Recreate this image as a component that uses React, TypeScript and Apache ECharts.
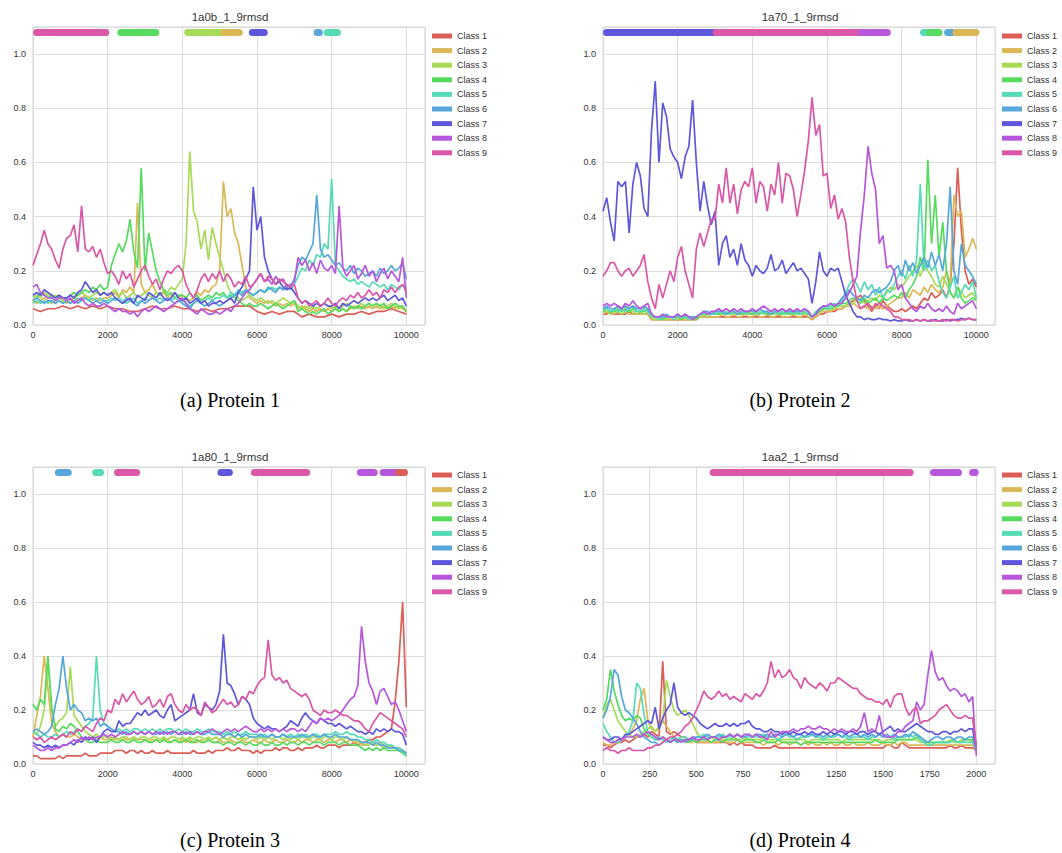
import React, { useEffect, useRef } from "react";
import * as echarts from "echarts";

// ---- classes ----
const CLASS_NAMES = ["Class 1", "Class 2", "Class 3", "Class 4", "Class 5", "Class 6", "Class 7", "Class 8", "Class 9"];
const CLASS_COLORS = ["#db5f57", "#dbb757", "#a7db57", "#57db5f", "#57dbb7", "#57a7db", "#5f57db", "#b757db", "#db57a7"];

// ---- panels ----
const PANEL_TITLES = ["1a0b_1_9rmsd", "1a70_1_9rmsd", "1a80_1_9rmsd", "1aa2_1_9rmsd"];
const PANEL_CAPTIONS = ["(a) Protein 1", "(b) Protein 2", "(c) Protein 3", "(d) Protein 4"];
const PANEL_SPANS = [10000, 10000, 10000, 2000];
const PANEL_X_MAX = [10500, 10500, 10500, 2100];
const PANEL_X_STEP = [2000, 2000, 2000, 250];
const STRIP_LEVEL = 1.08;

// ---- Protein 1 (1a0b) ----
const A1 = [
  0.06, 0.05, 0.06, 0.06, 0.07, 0.06, 0.07, 0.06, 0.07, 0.06,
  0.07, 0.06, 0.06, 0.05, 0.05, 0.06, 0.07, 0.06, 0.06, 0.07,
  0.06, 0.06, 0.05, 0.06, 0.05, 0.06, 0.06, 0.07, 0.07, 0.07,
  0.05, 0.04, 0.05, 0.04, 0.05, 0.05, 0.03, 0.04, 0.03, 0.03,
  0.04, 0.03, 0.04, 0.04, 0.05, 0.04, 0.05, 0.05, 0.06, 0.05,
  0.04,
];
const A2 = [
  0.09, 0.08, 0.09, 0.10, 0.09, 0.08, 0.09, 0.10, 0.09, 0.08,
  0.09, 0.10, 0.09, 0.10, 0.11, 0.10, 0.09, 0.10, 0.09, 0.10,
  0.10, 0.11, 0.12, 0.10, 0.13, 0.12, 0.14, 0.12, 0.45, 0.15,
  0.12, 0.13, 0.15, 0.12, 0.11, 0.12, 0.10, 0.11, 0.12, 0.10,
  0.11, 0.10, 0.09, 0.10, 0.12, 0.11, 0.13, 0.12, 0.14, 0.15,
  0.20, 0.53, 0.40, 0.43, 0.34, 0.30, 0.22, 0.14, 0.10, 0.09,
  0.08, 0.09, 0.08, 0.09, 0.08, 0.07, 0.08, 0.07, 0.08, 0.07,
  0.08, 0.06, 0.07, 0.06, 0.05, 0.06, 0.05, 0.06, 0.05, 0.06,
  0.05, 0.06, 0.05, 0.06, 0.05, 0.06, 0.07, 0.06, 0.07, 0.06,
  0.07, 0.06, 0.07, 0.06, 0.07, 0.06, 0.07, 0.06, 0.07, 0.06,
  0.05,
];
const A3 = [
  0.10, 0.11, 0.10, 0.12, 0.11, 0.10, 0.11, 0.10, 0.09, 0.10,
  0.11, 0.10, 0.11, 0.12, 0.11, 0.10, 0.11, 0.12, 0.11, 0.12,
  0.11, 0.12, 0.13, 0.11, 0.12, 0.10, 0.11, 0.12, 0.10, 0.11,
  0.12, 0.11, 0.10, 0.12, 0.11, 0.13, 0.12, 0.14, 0.13, 0.15,
  0.17, 0.30, 0.64, 0.42, 0.38, 0.28, 0.35, 0.24, 0.36, 0.30,
  0.25, 0.20, 0.15, 0.12, 0.11, 0.10, 0.09, 0.10, 0.11, 0.10,
  0.09, 0.10, 0.09, 0.08, 0.09, 0.08, 0.09, 0.10, 0.09, 0.08,
  0.09, 0.07, 0.06, 0.07, 0.06, 0.07, 0.06, 0.07, 0.08, 0.07,
  0.06, 0.07, 0.06, 0.07, 0.08, 0.07, 0.06, 0.07, 0.08, 0.07,
  0.08, 0.07, 0.08, 0.07, 0.06, 0.07, 0.08, 0.07, 0.06, 0.07,
  0.05,
];
const A4 = [
  0.09, 0.10, 0.12, 0.11, 0.10, 0.11, 0.10, 0.11, 0.10, 0.10,
  0.11, 0.12, 0.11, 0.12, 0.13, 0.12, 0.14, 0.13, 0.15, 0.13,
  0.14, 0.22, 0.26, 0.30, 0.27, 0.31, 0.39, 0.27, 0.21, 0.58,
  0.20, 0.34, 0.27, 0.20, 0.16, 0.13, 0.11, 0.12, 0.10, 0.11,
  0.11, 0.10, 0.12, 0.10, 0.11, 0.09, 0.10, 0.11, 0.10, 0.12,
  0.11, 0.12, 0.10, 0.11, 0.10, 0.09, 0.08, 0.07, 0.08, 0.07,
  0.07, 0.08, 0.07, 0.06, 0.07, 0.08, 0.07, 0.06, 0.07, 0.08,
  0.09, 0.05, 0.06, 0.05, 0.04, 0.05, 0.04, 0.05, 0.06, 0.04,
  0.05, 0.06, 0.05, 0.06, 0.05, 0.07, 0.06, 0.07, 0.06, 0.07,
  0.08, 0.07, 0.08, 0.07, 0.08, 0.06, 0.07, 0.08, 0.07, 0.07,
  0.05,
];
const A5 = [
  0.08, 0.09, 0.08, 0.09, 0.08, 0.09, 0.08, 0.09, 0.08, 0.09,
  0.08, 0.09, 0.10, 0.09, 0.10, 0.09, 0.10, 0.09, 0.10, 0.09,
  0.09, 0.10, 0.09, 0.10, 0.09, 0.08, 0.09, 0.10, 0.08, 0.09,
  0.10, 0.09, 0.10, 0.09, 0.10, 0.09, 0.10, 0.09, 0.10, 0.09,
  0.09, 0.08, 0.07, 0.08, 0.09, 0.08, 0.09, 0.10, 0.09, 0.10,
  0.10, 0.11, 0.10, 0.12, 0.11, 0.13, 0.12, 0.13, 0.12, 0.11,
  0.12, 0.13, 0.12, 0.13, 0.14, 0.13, 0.14, 0.13, 0.14, 0.13,
  0.15, 0.18, 0.21, 0.20, 0.24, 0.22, 0.26, 0.25, 0.30, 0.28,
  0.54, 0.22, 0.20, 0.18, 0.17, 0.16, 0.17, 0.15, 0.16, 0.15,
  0.14, 0.16, 0.15, 0.14, 0.15, 0.13, 0.15, 0.14, 0.13, 0.15,
  0.13,
];
const A6 = [
  0.09, 0.10, 0.09, 0.08, 0.09, 0.09, 0.08, 0.09, 0.08, 0.09,
  0.08, 0.09, 0.08, 0.09, 0.10, 0.09, 0.08, 0.09, 0.08, 0.09,
  0.08, 0.09, 0.10, 0.09, 0.08, 0.10, 0.09, 0.08, 0.07, 0.09,
  0.08, 0.09, 0.10, 0.09, 0.08, 0.09, 0.10, 0.09, 0.08, 0.09,
  0.08, 0.07, 0.06, 0.08, 0.09, 0.08, 0.07, 0.08, 0.09, 0.08,
  0.07, 0.08, 0.09, 0.10, 0.11, 0.12, 0.11, 0.13, 0.12, 0.11,
  0.12, 0.13, 0.12, 0.14, 0.13, 0.12, 0.14, 0.13, 0.15, 0.14,
  0.17, 0.22, 0.25, 0.24, 0.27, 0.30, 0.48, 0.28, 0.25, 0.26,
  0.24, 0.22, 0.23, 0.21, 0.20, 0.22, 0.19, 0.21, 0.20, 0.18,
  0.19, 0.20, 0.18, 0.21, 0.19, 0.20, 0.22, 0.20, 0.21, 0.23,
  0.17,
];
const A7 = [
  0.11, 0.12, 0.11, 0.13, 0.12, 0.11, 0.10, 0.11, 0.10, 0.10,
  0.11, 0.10, 0.12, 0.13, 0.16, 0.14, 0.12, 0.13, 0.11, 0.12,
  0.11, 0.12, 0.10, 0.09, 0.08, 0.09, 0.10, 0.08, 0.11, 0.10,
  0.09, 0.12, 0.11, 0.10, 0.12, 0.10, 0.09, 0.10, 0.12, 0.10,
  0.09, 0.10, 0.08, 0.09, 0.10, 0.08, 0.09, 0.07, 0.08, 0.08,
  0.09, 0.08, 0.09, 0.10, 0.08, 0.12, 0.14, 0.17, 0.20, 0.51,
  0.35, 0.40, 0.25, 0.20, 0.17, 0.15, 0.16, 0.14, 0.13, 0.14,
  0.12, 0.10, 0.08, 0.09, 0.08, 0.07, 0.08, 0.07, 0.08, 0.07,
  0.07, 0.08, 0.06, 0.08, 0.07, 0.08, 0.09, 0.08, 0.09, 0.10,
  0.09, 0.10, 0.09, 0.10, 0.11, 0.09, 0.10, 0.11, 0.09, 0.10,
  0.07,
];
const A8 = [
  0.14, 0.15, 0.12, 0.11, 0.10, 0.10, 0.09, 0.10, 0.10, 0.09,
  0.10, 0.08, 0.09, 0.10, 0.08, 0.07, 0.08, 0.07, 0.07, 0.08,
  0.07, 0.06, 0.05, 0.06, 0.05, 0.05, 0.04, 0.05, 0.03, 0.05,
  0.06, 0.05, 0.06, 0.07, 0.06, 0.05, 0.06, 0.07, 0.08, 0.09,
  0.10, 0.08, 0.06, 0.05, 0.04, 0.06, 0.05, 0.04, 0.04, 0.05,
  0.04, 0.05, 0.06, 0.05, 0.07, 0.08, 0.10, 0.12, 0.13, 0.15,
  0.17, 0.19, 0.16, 0.17, 0.15, 0.18, 0.16, 0.17, 0.14, 0.15,
  0.16, 0.25, 0.22, 0.24, 0.20, 0.23, 0.19, 0.24, 0.21, 0.20,
  0.22, 0.19, 0.44, 0.21, 0.18, 0.20, 0.22, 0.17, 0.19, 0.22,
  0.18, 0.20, 0.16, 0.19, 0.21, 0.17, 0.20, 0.18, 0.16, 0.25,
  0.10,
];
const A9 = [
  0.22, 0.26, 0.30, 0.35, 0.30, 0.28, 0.24, 0.21, 0.28, 0.32,
  0.33, 0.37, 0.27, 0.44, 0.28, 0.27, 0.29, 0.25, 0.28, 0.23,
  0.19, 0.20, 0.18, 0.15, 0.20, 0.17, 0.19, 0.14, 0.17, 0.20,
  0.22, 0.18, 0.15, 0.17, 0.13, 0.17, 0.20, 0.19, 0.21, 0.22,
  0.20, 0.15, 0.12, 0.10, 0.13, 0.17, 0.19, 0.16, 0.19, 0.17,
  0.20, 0.16, 0.19, 0.17, 0.14, 0.16, 0.15, 0.18, 0.14, 0.15,
  0.17, 0.19, 0.16, 0.18, 0.17, 0.15, 0.17, 0.16, 0.15, 0.14,
  0.15, 0.10, 0.08, 0.09, 0.07, 0.08, 0.09, 0.07, 0.08, 0.10,
  0.08, 0.07, 0.09, 0.10, 0.09, 0.11, 0.10, 0.12, 0.10, 0.11,
  0.13, 0.11, 0.12, 0.10, 0.13, 0.12, 0.14, 0.12, 0.14, 0.15,
  0.12,
];
// [class number, from, to]
const A_STRIPS = [
  [9, 95, 1950], [4, 2355, 3290], [3, 4145, 5120], [2, 5120, 5525],
  [7, 5875, 6195], [6, 7610, 7670], [5, 7880, 8155],
];

// ---- Protein 2 (1a70) ----
const B1 = [
  0.04, 0.04, 0.05, 0.04, 0.04, 0.04, 0.04, 0.05, 0.04, 0.04,
  0.04, 0.04, 0.04, 0.02, 0.02, 0.02, 0.02, 0.02, 0.02, 0.02,
  0.02, 0.02, 0.02, 0.02, 0.02, 0.02, 0.03, 0.03, 0.03, 0.03,
  0.03, 0.03, 0.03, 0.03, 0.03, 0.03, 0.03, 0.03, 0.03, 0.03,
  0.03, 0.03, 0.03, 0.03, 0.03, 0.03, 0.03, 0.03, 0.03, 0.03,
  0.03, 0.03, 0.03, 0.03, 0.03, 0.03, 0.02, 0.03, 0.04, 0.04,
  0.05, 0.05, 0.05, 0.06, 0.06, 0.07, 0.08, 0.09, 0.10, 0.11,
  0.09, 0.07, 0.05, 0.08, 0.06, 0.09, 0.07, 0.06, 0.05, 0.05,
  0.06, 0.05, 0.06, 0.07, 0.06, 0.08, 0.10, 0.09, 0.12, 0.10,
  0.11, 0.13, 0.10, 0.15, 0.30, 0.58, 0.35, 0.20, 0.15, 0.17,
  0.14,
];
const B2 = [
  0.04, 0.05, 0.04, 0.04, 0.05, 0.04, 0.05, 0.04, 0.04, 0.04,
  0.04, 0.04, 0.04, 0.02, 0.02, 0.02, 0.02, 0.02, 0.02, 0.02,
  0.02, 0.02, 0.02, 0.02, 0.02, 0.02, 0.03, 0.03, 0.03, 0.03,
  0.03, 0.03, 0.04, 0.03, 0.03, 0.04, 0.03, 0.03, 0.04, 0.03,
  0.03, 0.04, 0.03, 0.03, 0.04, 0.03, 0.03, 0.04, 0.03, 0.03,
  0.03, 0.04, 0.03, 0.03, 0.04, 0.03, 0.02, 0.03, 0.04, 0.05,
  0.05, 0.05, 0.06, 0.06, 0.06, 0.07, 0.07, 0.08, 0.07, 0.06,
  0.07, 0.06, 0.07, 0.06, 0.07, 0.06, 0.07, 0.08, 0.09, 0.10,
  0.10, 0.12, 0.10, 0.13, 0.12, 0.11, 0.14, 0.12, 0.15, 0.13,
  0.12, 0.14, 0.20, 0.15, 0.48, 0.40, 0.42, 0.25, 0.28, 0.32,
  0.28,
];
const B3 = [
  0.05, 0.05, 0.04, 0.05, 0.05, 0.04, 0.05, 0.05, 0.05, 0.04,
  0.05, 0.04, 0.05, 0.03, 0.02, 0.02, 0.03, 0.02, 0.03, 0.02,
  0.03, 0.02, 0.03, 0.02, 0.02, 0.03, 0.03, 0.04, 0.03, 0.04,
  0.04, 0.04, 0.04, 0.04, 0.05, 0.04, 0.04, 0.04, 0.04, 0.05,
  0.04, 0.04, 0.04, 0.05, 0.04, 0.04, 0.04, 0.05, 0.04, 0.04,
  0.04, 0.04, 0.05, 0.04, 0.04, 0.04, 0.03, 0.04, 0.05, 0.06,
  0.06, 0.06, 0.06, 0.07, 0.07, 0.07, 0.08, 0.08, 0.09, 0.10,
  0.08, 0.09, 0.10, 0.09, 0.11, 0.10, 0.12, 0.14, 0.13, 0.15,
  0.14, 0.16, 0.18, 0.20, 0.22, 0.18, 0.22, 0.20, 0.18, 0.15,
  0.14, 0.18, 0.15, 0.12, 0.10, 0.14, 0.12, 0.10, 0.11, 0.12,
  0.09,
];
const B4 = [
  0.05, 0.06, 0.05, 0.05, 0.06, 0.05, 0.06, 0.05, 0.06, 0.05,
  0.05, 0.05, 0.06, 0.03, 0.03, 0.03, 0.02, 0.03, 0.03, 0.03,
  0.03, 0.02, 0.03, 0.03, 0.03, 0.02, 0.04, 0.04, 0.04, 0.04,
  0.04, 0.04, 0.05, 0.04, 0.04, 0.05, 0.04, 0.04, 0.05, 0.04,
  0.04, 0.05, 0.04, 0.05, 0.04, 0.04, 0.05, 0.04, 0.04, 0.05,
  0.04, 0.05, 0.04, 0.04, 0.05, 0.04, 0.03, 0.04, 0.05, 0.06,
  0.06, 0.06, 0.07, 0.07, 0.08, 0.08, 0.09, 0.10, 0.09, 0.08,
  0.10, 0.08, 0.09, 0.10, 0.08, 0.10, 0.09, 0.10, 0.11, 0.10,
  0.12, 0.10, 0.13, 0.15, 0.18, 0.25, 0.20, 0.61, 0.30, 0.48,
  0.25, 0.38, 0.20, 0.12, 0.10, 0.14, 0.10, 0.08, 0.09, 0.10,
  0.09,
];
const B5 = [
  0.06, 0.06, 0.05, 0.06, 0.05, 0.06, 0.05, 0.06, 0.07, 0.05,
  0.05, 0.06, 0.05, 0.03, 0.03, 0.02, 0.03, 0.03, 0.03, 0.02,
  0.03, 0.03, 0.03, 0.02, 0.03, 0.03, 0.04, 0.04, 0.04, 0.04,
  0.04, 0.05, 0.04, 0.05, 0.04, 0.05, 0.04, 0.05, 0.04, 0.05,
  0.05, 0.04, 0.05, 0.04, 0.05, 0.04, 0.05, 0.04, 0.05, 0.04,
  0.05, 0.04, 0.05, 0.04, 0.05, 0.04, 0.03, 0.05, 0.06, 0.07,
  0.06, 0.07, 0.08, 0.07, 0.09, 0.12, 0.15, 0.17, 0.15, 0.12,
  0.16, 0.13, 0.15, 0.11, 0.14, 0.10, 0.13, 0.12, 0.15, 0.18,
  0.20, 0.17, 0.22, 0.18, 0.24, 0.52, 0.20, 0.24, 0.20, 0.22,
  0.16, 0.12, 0.10, 0.14, 0.18, 0.10, 0.12, 0.15, 0.13, 0.16,
  0.10,
];
const B6 = [
  0.06, 0.07, 0.06, 0.06, 0.07, 0.06, 0.07, 0.06, 0.07, 0.06,
  0.06, 0.07, 0.06, 0.04, 0.03, 0.03, 0.03, 0.04, 0.03, 0.03,
  0.04, 0.03, 0.04, 0.03, 0.03, 0.03, 0.04, 0.05, 0.05, 0.04,
  0.05, 0.05, 0.05, 0.04, 0.05, 0.05, 0.04, 0.05, 0.05, 0.05,
  0.05, 0.05, 0.06, 0.05, 0.05, 0.04, 0.05, 0.05, 0.06, 0.05,
  0.05, 0.05, 0.05, 0.05, 0.06, 0.05, 0.03, 0.04, 0.06, 0.07,
  0.07, 0.08, 0.07, 0.08, 0.10, 0.11, 0.13, 0.11, 0.10, 0.09,
  0.11, 0.10, 0.12, 0.13, 0.12, 0.13, 0.14, 0.16, 0.20, 0.22,
  0.18, 0.24, 0.20, 0.23, 0.19, 0.22, 0.25, 0.21, 0.27, 0.22,
  0.26, 0.20, 0.30, 0.51, 0.20, 0.15, 0.30, 0.22, 0.20, 0.18,
  0.15,
];
const B7 = [
  0.42, 0.47, 0.38, 0.31, 0.53, 0.51, 0.53, 0.34, 0.52, 0.60,
  0.55, 0.43, 0.40, 0.72, 0.90, 0.60, 0.82, 0.77, 0.65, 0.62,
  0.60, 0.54, 0.62, 0.66, 0.83, 0.60, 0.42, 0.53, 0.44, 0.37,
  0.42, 0.22, 0.30, 0.33, 0.25, 0.28, 0.22, 0.30, 0.24, 0.22,
  0.18, 0.22, 0.20, 0.19, 0.21, 0.26, 0.20, 0.21, 0.24, 0.19,
  0.21, 0.23, 0.20, 0.21, 0.19, 0.17, 0.08, 0.16, 0.27, 0.20,
  0.18, 0.21, 0.20, 0.21, 0.16, 0.11, 0.08, 0.05, 0.03, 0.03,
  0.02, 0.025, 0.02, 0.02, 0.025, 0.02, 0.02, 0.015, 0.02, 0.015,
  0.015, 0.02, 0.015, 0.015, 0.02, 0.015, 0.02, 0.015, 0.015, 0.02,
  0.015, 0.015, 0.02, 0.015, 0.02, 0.02, 0.025, 0.02, 0.025, 0.02,
  0.02,
];
const B8 = [
  0.07, 0.08, 0.07, 0.08, 0.07, 0.06, 0.08, 0.07, 0.09, 0.07,
  0.06, 0.07, 0.08, 0.04, 0.03, 0.03, 0.04, 0.03, 0.03, 0.03,
  0.04, 0.03, 0.04, 0.03, 0.02, 0.03, 0.04, 0.05, 0.04, 0.05,
  0.05, 0.06, 0.05, 0.06, 0.05, 0.06, 0.05, 0.06, 0.05, 0.05,
  0.06, 0.05, 0.06, 0.07, 0.06, 0.05, 0.06, 0.05, 0.06, 0.05,
  0.06, 0.05, 0.06, 0.05, 0.06, 0.05, 0.03, 0.04, 0.06, 0.07,
  0.07, 0.08, 0.07, 0.08, 0.08, 0.10, 0.12, 0.15, 0.18, 0.35,
  0.48, 0.66, 0.56, 0.50, 0.30, 0.33, 0.21, 0.22, 0.20, 0.13,
  0.15, 0.10, 0.08, 0.06, 0.05, 0.07, 0.06, 0.08, 0.06, 0.05,
  0.06, 0.05, 0.07, 0.05, 0.04, 0.08, 0.06, 0.07, 0.08, 0.09,
  0.06,
];
const B9 = [
  0.18, 0.20, 0.23, 0.23, 0.20, 0.18, 0.20, 0.21, 0.18, 0.20,
  0.22, 0.26, 0.16, 0.10, 0.06, 0.15, 0.10, 0.15, 0.20, 0.16,
  0.25, 0.29, 0.20, 0.15, 0.10, 0.28, 0.34, 0.29, 0.34, 0.39,
  0.39, 0.52, 0.45, 0.58, 0.45, 0.52, 0.41, 0.50, 0.53, 0.51,
  0.58, 0.45, 0.53, 0.51, 0.42, 0.52, 0.48, 0.60, 0.45, 0.56,
  0.55, 0.50, 0.40, 0.48, 0.57, 0.68, 0.84, 0.70, 0.74, 0.55,
  0.56, 0.43, 0.48, 0.39, 0.43, 0.38, 0.25, 0.16, 0.09, 0.06,
  0.07, 0.08, 0.06, 0.07, 0.08, 0.07, 0.06, 0.05, 0.03, 0.03,
  0.02, 0.02, 0.02, 0.015, 0.02, 0.015, 0.02, 0.015, 0.02, 0.015,
  0.015, 0.02, 0.015, 0.02, 0.02, 0.015, 0.02, 0.02, 0.025, 0.02,
  0.02,
];
const B_STRIPS = [
  [7, 95, 3030], [9, 3030, 6880], [8, 6925, 7615], [5, 8585, 8750],
  [4, 8750, 9000], [6, 9230, 9360], [2, 9453, 9990],
];

// ---- Protein 3 (1a80) ----
const C1 = [
  0.03, 0.03, 0.02, 0.02, 0.02, 0.02, 0.02, 0.03, 0.02, 0.03,
  0.03, 0.03, 0.03, 0.03, 0.04, 0.03, 0.03, 0.03, 0.04, 0.04,
  0.04, 0.04, 0.05, 0.05, 0.05, 0.04, 0.05, 0.05, 0.04, 0.05,
  0.04, 0.04, 0.05, 0.04, 0.04, 0.04, 0.05, 0.04, 0.04, 0.04,
  0.04, 0.04, 0.04, 0.05, 0.04, 0.04, 0.04, 0.05, 0.04, 0.05,
  0.05, 0.05, 0.06, 0.05, 0.05, 0.06, 0.05, 0.05, 0.05, 0.04,
  0.05, 0.04, 0.05, 0.05, 0.05, 0.06, 0.05, 0.06, 0.06, 0.05,
  0.05, 0.06, 0.05, 0.06, 0.06, 0.06, 0.07, 0.06, 0.06, 0.07,
  0.07, 0.07, 0.06, 0.07, 0.07, 0.07, 0.08, 0.07, 0.08, 0.08,
  0.09, 0.09, 0.10, 0.10, 0.11, 0.12, 0.13, 0.23, 0.38, 0.60,
  0.21,
];
const C2 = [
  0.10, 0.18, 0.25, 0.40, 0.28, 0.15, 0.12, 0.10, 0.11, 0.10,
  0.10, 0.11, 0.10, 0.09, 0.10, 0.09, 0.10, 0.09, 0.10, 0.09,
  0.09, 0.10, 0.09, 0.09, 0.10, 0.09, 0.09, 0.10, 0.09, 0.09,
  0.09, 0.08, 0.09, 0.09, 0.08, 0.09, 0.09, 0.08, 0.09, 0.08,
  0.09, 0.08, 0.09, 0.08, 0.08, 0.09, 0.08, 0.09, 0.08, 0.08,
  0.09, 0.08, 0.08, 0.09, 0.08, 0.08, 0.09, 0.08, 0.08, 0.09,
  0.08, 0.08, 0.09, 0.08, 0.08, 0.09, 0.08, 0.08, 0.09, 0.08,
  0.08, 0.09, 0.08, 0.09, 0.09, 0.08, 0.09, 0.09, 0.08, 0.09,
  0.09, 0.08, 0.09, 0.09, 0.08, 0.09, 0.08, 0.08, 0.07, 0.07,
  0.08, 0.07, 0.07, 0.08, 0.07, 0.06, 0.07, 0.06, 0.06, 0.05,
  0.04,
];
const C3 = [
  0.12, 0.11, 0.14, 0.20, 0.38, 0.20, 0.14, 0.16, 0.17, 0.19,
  0.36, 0.18, 0.16, 0.14, 0.12, 0.11, 0.10, 0.11, 0.10, 0.10,
  0.10, 0.09, 0.10, 0.09, 0.10, 0.10, 0.09, 0.10, 0.09, 0.10,
  0.10, 0.09, 0.10, 0.10, 0.09, 0.10, 0.09, 0.10, 0.10, 0.09,
  0.10, 0.09, 0.10, 0.09, 0.10, 0.10, 0.09, 0.10, 0.09, 0.10,
  0.09, 0.10, 0.09, 0.10, 0.10, 0.09, 0.10, 0.09, 0.10, 0.10,
  0.09, 0.10, 0.09, 0.10, 0.09, 0.10, 0.10, 0.09, 0.10, 0.09,
  0.10, 0.09, 0.10, 0.10, 0.09, 0.10, 0.10, 0.09, 0.10, 0.10,
  0.09, 0.10, 0.10, 0.09, 0.10, 0.09, 0.09, 0.08, 0.08, 0.07,
  0.07, 0.08, 0.07, 0.07, 0.06, 0.07, 0.06, 0.06, 0.05, 0.05,
  0.04,
];
const C4 = [
  0.22, 0.20, 0.24, 0.22, 0.40, 0.21, 0.13, 0.12, 0.14, 0.13,
  0.15, 0.14, 0.12, 0.10, 0.09, 0.08, 0.08, 0.09, 0.08, 0.08,
  0.08, 0.09, 0.08, 0.08, 0.09, 0.08, 0.08, 0.09, 0.08, 0.08,
  0.09, 0.08, 0.08, 0.09, 0.08, 0.09, 0.08, 0.08, 0.09, 0.08,
  0.08, 0.09, 0.08, 0.08, 0.09, 0.08, 0.08, 0.09, 0.08, 0.08,
  0.08, 0.07, 0.08, 0.08, 0.07, 0.08, 0.08, 0.07, 0.08, 0.07,
  0.07, 0.08, 0.07, 0.07, 0.08, 0.07, 0.07, 0.08, 0.07, 0.08,
  0.08, 0.07, 0.08, 0.08, 0.07, 0.08, 0.08, 0.08, 0.07, 0.08,
  0.08, 0.08, 0.07, 0.08, 0.08, 0.07, 0.07, 0.07, 0.06, 0.05,
  0.06, 0.05, 0.06, 0.05, 0.06, 0.05, 0.05, 0.05, 0.05, 0.04,
  0.03,
];
const C5 = [
  0.12, 0.11, 0.10, 0.11, 0.10, 0.10, 0.11, 0.10, 0.11, 0.12,
  0.11, 0.12, 0.13, 0.12, 0.14, 0.15, 0.17, 0.40, 0.20, 0.15,
  0.14, 0.13, 0.12, 0.13, 0.12, 0.13, 0.12, 0.13, 0.13, 0.12,
  0.13, 0.12, 0.13, 0.12, 0.13, 0.12, 0.13, 0.13, 0.12, 0.13,
  0.12, 0.13, 0.12, 0.12, 0.13, 0.12, 0.12, 0.13, 0.12, 0.12,
  0.12, 0.11, 0.12, 0.11, 0.12, 0.11, 0.11, 0.12, 0.11, 0.11,
  0.11, 0.10, 0.11, 0.10, 0.11, 0.10, 0.10, 0.11, 0.10, 0.11,
  0.10, 0.11, 0.10, 0.11, 0.10, 0.11, 0.11, 0.10, 0.11, 0.11,
  0.11, 0.12, 0.11, 0.11, 0.12, 0.11, 0.11, 0.10, 0.10, 0.09,
  0.09, 0.08, 0.09, 0.08, 0.08, 0.07, 0.07, 0.06, 0.06, 0.05,
  0.03,
];
const C6 = [
  0.12, 0.13, 0.12, 0.11, 0.12, 0.14, 0.22, 0.28, 0.40, 0.28,
  0.20, 0.22, 0.20, 0.19, 0.16, 0.17, 0.16, 0.17, 0.14, 0.15,
  0.14, 0.13, 0.12, 0.12, 0.11, 0.12, 0.11, 0.12, 0.11, 0.12,
  0.11, 0.12, 0.11, 0.11, 0.12, 0.11, 0.12, 0.11, 0.12, 0.11,
  0.11, 0.12, 0.11, 0.11, 0.12, 0.11, 0.11, 0.12, 0.11, 0.11,
  0.11, 0.10, 0.11, 0.11, 0.10, 0.11, 0.10, 0.11, 0.10, 0.10,
  0.10, 0.11, 0.10, 0.10, 0.11, 0.10, 0.10, 0.11, 0.10, 0.10,
  0.10, 0.10, 0.11, 0.10, 0.10, 0.11, 0.10, 0.10, 0.11, 0.10,
  0.10, 0.11, 0.10, 0.10, 0.10, 0.09, 0.09, 0.09, 0.08, 0.08,
  0.08, 0.07, 0.08, 0.07, 0.07, 0.06, 0.06, 0.06, 0.05, 0.05,
  0.04,
];
const C7 = [
  0.08, 0.07, 0.07, 0.06, 0.07, 0.06, 0.07, 0.06, 0.07, 0.07,
  0.08, 0.07, 0.09, 0.08, 0.10, 0.09, 0.10, 0.08, 0.10, 0.12,
  0.13, 0.12, 0.12, 0.16, 0.14, 0.15, 0.15, 0.17, 0.19, 0.18,
  0.20, 0.18, 0.19, 0.20, 0.18, 0.17, 0.20, 0.22, 0.16, 0.17,
  0.18, 0.19, 0.20, 0.26, 0.19, 0.18, 0.22, 0.21, 0.20, 0.22,
  0.27, 0.48, 0.30, 0.29, 0.26, 0.22, 0.25, 0.24, 0.22, 0.17,
  0.15, 0.14, 0.13, 0.14, 0.13, 0.13, 0.12, 0.13, 0.14, 0.16,
  0.15, 0.14, 0.17, 0.19, 0.17, 0.16, 0.15, 0.17, 0.16, 0.15,
  0.15, 0.14, 0.15, 0.14, 0.13, 0.14, 0.13, 0.12, 0.12, 0.11,
  0.12, 0.11, 0.13, 0.12, 0.13, 0.12, 0.13, 0.12, 0.12, 0.11,
  0.07,
];
const C8 = [
  0.07, 0.06, 0.05, 0.05, 0.06, 0.05, 0.06, 0.06, 0.07, 0.07,
  0.08, 0.09, 0.08, 0.10, 0.09, 0.10, 0.09, 0.10, 0.10, 0.11,
  0.10, 0.11, 0.10, 0.11, 0.12, 0.11, 0.11, 0.12, 0.11, 0.12,
  0.11, 0.12, 0.11, 0.12, 0.11, 0.12, 0.11, 0.12, 0.12, 0.11,
  0.12, 0.11, 0.12, 0.11, 0.12, 0.11, 0.12, 0.12, 0.13, 0.12,
  0.11, 0.12, 0.13, 0.12, 0.13, 0.12, 0.13, 0.14, 0.13, 0.12,
  0.12, 0.13, 0.12, 0.13, 0.12, 0.13, 0.12, 0.13, 0.12, 0.13,
  0.13, 0.12, 0.13, 0.12, 0.14, 0.16, 0.15, 0.17, 0.16, 0.17,
  0.16, 0.17, 0.18, 0.20, 0.22, 0.24, 0.25, 0.29, 0.51, 0.38,
  0.30, 0.27, 0.22, 0.27, 0.28, 0.25, 0.22, 0.23, 0.20, 0.16,
  0.12,
];
const C9 = [
  0.10, 0.09, 0.10, 0.08, 0.09, 0.10, 0.09, 0.10, 0.11, 0.10,
  0.12, 0.11, 0.13, 0.12, 0.14, 0.13, 0.12, 0.15, 0.17, 0.16,
  0.20, 0.19, 0.24, 0.22, 0.26, 0.23, 0.25, 0.27, 0.24, 0.22,
  0.23, 0.25, 0.21, 0.22, 0.24, 0.21, 0.25, 0.26, 0.22, 0.20,
  0.19, 0.22, 0.20, 0.21, 0.20, 0.18, 0.23, 0.21, 0.19, 0.20,
  0.22, 0.24, 0.22, 0.23, 0.21, 0.22, 0.25, 0.24, 0.27, 0.26,
  0.29, 0.31, 0.32, 0.46, 0.33, 0.31, 0.32, 0.30, 0.31, 0.28,
  0.27, 0.26, 0.25, 0.26, 0.24, 0.20, 0.19, 0.18, 0.20, 0.19,
  0.19, 0.20, 0.19, 0.18, 0.18, 0.17, 0.16, 0.16, 0.15, 0.13,
  0.12, 0.15, 0.17, 0.19, 0.18, 0.17, 0.16, 0.15, 0.14, 0.13,
  0.10,
];
const C_STRIPS = [
  [6, 680, 945], [5, 1680, 1810], [9, 2265, 2775], [7, 5035, 5260],
  [9, 5930, 7330], [8, 8770, 9140], [8, 9380, 9720], [1, 9790, 9950],
];

// ---- Protein 4 (1aa2) ----
const D1 = [
  0.07, 0.07, 0.06, 0.07, 0.08, 0.08, 0.09, 0.08, 0.09, 0.10,
  0.10, 0.11, 0.10, 0.12, 0.11, 0.10, 0.38, 0.12, 0.11, 0.12,
  0.11, 0.10, 0.10, 0.09, 0.09, 0.08, 0.08, 0.08, 0.08, 0.08,
  0.08, 0.08, 0.08, 0.08, 0.07, 0.08, 0.07, 0.08, 0.07, 0.07,
  0.07, 0.06, 0.06, 0.06, 0.06, 0.06, 0.07, 0.06, 0.06, 0.06,
  0.06, 0.06, 0.06, 0.06, 0.06, 0.06, 0.06, 0.06, 0.06, 0.06,
  0.06, 0.06, 0.06, 0.06, 0.06, 0.06, 0.06, 0.06, 0.06, 0.06,
  0.06, 0.06, 0.06, 0.06, 0.06, 0.06, 0.07, 0.07, 0.06, 0.06,
  0.08, 0.07, 0.06, 0.06, 0.06, 0.06, 0.06, 0.06, 0.06, 0.06,
  0.06, 0.06, 0.06, 0.07, 0.06, 0.06, 0.07, 0.06, 0.06, 0.06,
  0.05,
];
const D2 = [
  0.08, 0.07, 0.07, 0.08, 0.08, 0.09, 0.10, 0.11, 0.13, 0.16,
  0.24, 0.28, 0.16, 0.13, 0.12, 0.13, 0.16, 0.14, 0.12, 0.10,
  0.09, 0.09, 0.08, 0.08, 0.08, 0.09, 0.08, 0.08, 0.08, 0.08,
  0.08, 0.08, 0.09, 0.08, 0.08, 0.08, 0.09, 0.08, 0.08, 0.08,
  0.08, 0.08, 0.08, 0.07, 0.08, 0.08, 0.08, 0.07, 0.08, 0.08,
  0.07, 0.08, 0.08, 0.07, 0.08, 0.07, 0.08, 0.07, 0.07, 0.08,
  0.07, 0.08, 0.07, 0.07, 0.08, 0.07, 0.07, 0.08, 0.07, 0.07,
  0.07, 0.08, 0.07, 0.07, 0.07, 0.08, 0.07, 0.07, 0.08, 0.07,
  0.08, 0.08, 0.07, 0.07, 0.07, 0.07, 0.07, 0.07, 0.07, 0.07,
  0.07, 0.07, 0.07, 0.07, 0.07, 0.07, 0.07, 0.07, 0.07, 0.07,
  0.05,
];
const D3 = [
  0.17, 0.22, 0.24, 0.20, 0.16, 0.14, 0.12, 0.11, 0.10, 0.10,
  0.11, 0.12, 0.13, 0.14, 0.12, 0.14, 0.16, 0.31, 0.25, 0.20,
  0.18, 0.19, 0.20, 0.18, 0.15, 0.12, 0.10, 0.09, 0.09, 0.10,
  0.09, 0.09, 0.10, 0.09, 0.09, 0.10, 0.09, 0.09, 0.10, 0.09,
  0.09, 0.09, 0.09, 0.10, 0.09, 0.09, 0.09, 0.09, 0.09, 0.09,
  0.09, 0.09, 0.09, 0.09, 0.09, 0.08, 0.09, 0.09, 0.09, 0.09,
  0.09, 0.09, 0.09, 0.09, 0.08, 0.09, 0.09, 0.09, 0.09, 0.09,
  0.09, 0.09, 0.09, 0.09, 0.09, 0.08, 0.09, 0.09, 0.09, 0.09,
  0.09, 0.09, 0.09, 0.09, 0.09, 0.08, 0.08, 0.08, 0.07, 0.08,
  0.08, 0.08, 0.08, 0.09, 0.08, 0.08, 0.09, 0.09, 0.09, 0.08,
  0.05,
];
const D4 = [
  0.20, 0.24, 0.35, 0.27, 0.22, 0.18, 0.16, 0.17, 0.16, 0.18,
  0.17, 0.13, 0.11, 0.10, 0.09, 0.09, 0.10, 0.09, 0.08, 0.09,
  0.08, 0.09, 0.09, 0.08, 0.09, 0.08, 0.09, 0.09, 0.09, 0.08,
  0.09, 0.09, 0.08, 0.09, 0.09, 0.09, 0.09, 0.08, 0.09, 0.09,
  0.09, 0.08, 0.08, 0.09, 0.08, 0.08, 0.08, 0.09, 0.08, 0.08,
  0.08, 0.08, 0.08, 0.07, 0.08, 0.08, 0.08, 0.08, 0.08, 0.08,
  0.08, 0.08, 0.08, 0.08, 0.08, 0.08, 0.08, 0.08, 0.08, 0.08,
  0.08, 0.08, 0.08, 0.09, 0.08, 0.08, 0.08, 0.08, 0.08, 0.09,
  0.09, 0.09, 0.09, 0.09, 0.10, 0.09, 0.08, 0.08, 0.08, 0.08,
  0.08, 0.08, 0.08, 0.08, 0.09, 0.08, 0.08, 0.09, 0.09, 0.09,
  0.05,
];
const D5 = [
  0.15, 0.12, 0.10, 0.08, 0.08, 0.09, 0.10, 0.12, 0.16, 0.30,
  0.28, 0.18, 0.12, 0.10, 0.09, 0.10, 0.09, 0.08, 0.09, 0.10,
  0.09, 0.10, 0.10, 0.09, 0.10, 0.10, 0.10, 0.11, 0.10, 0.10,
  0.10, 0.10, 0.11, 0.10, 0.10, 0.10, 0.11, 0.10, 0.10, 0.10,
  0.10, 0.10, 0.10, 0.11, 0.10, 0.10, 0.10, 0.09, 0.10, 0.11,
  0.10, 0.10, 0.09, 0.10, 0.10, 0.10, 0.11, 0.10, 0.10, 0.09,
  0.10, 0.10, 0.10, 0.11, 0.10, 0.10, 0.09, 0.10, 0.10, 0.10,
  0.10, 0.09, 0.10, 0.10, 0.11, 0.10, 0.10, 0.10, 0.09, 0.10,
  0.10, 0.10, 0.11, 0.10, 0.11, 0.09, 0.08, 0.07, 0.07, 0.08,
  0.08, 0.08, 0.08, 0.08, 0.09, 0.08, 0.08, 0.08, 0.08, 0.08,
  0.05,
];
const D6 = [
  0.17, 0.20, 0.25, 0.35, 0.33, 0.25, 0.20, 0.19, 0.17, 0.15,
  0.12, 0.10, 0.09, 0.08, 0.08, 0.07, 0.08, 0.09, 0.08, 0.09,
  0.08, 0.09, 0.08, 0.09, 0.09, 0.10, 0.10, 0.10, 0.11, 0.10,
  0.10, 0.11, 0.10, 0.10, 0.11, 0.10, 0.11, 0.10, 0.10, 0.11,
  0.10, 0.11, 0.11, 0.10, 0.11, 0.10, 0.11, 0.11, 0.10, 0.11,
  0.11, 0.10, 0.11, 0.11, 0.10, 0.11, 0.11, 0.10, 0.11, 0.10,
  0.11, 0.10, 0.11, 0.11, 0.10, 0.11, 0.10, 0.11, 0.11, 0.10,
  0.11, 0.10, 0.11, 0.10, 0.11, 0.10, 0.11, 0.10, 0.11, 0.10,
  0.10, 0.11, 0.10, 0.12, 0.11, 0.10, 0.09, 0.08, 0.09, 0.10,
  0.10, 0.09, 0.10, 0.10, 0.09, 0.10, 0.10, 0.09, 0.10, 0.10,
  0.06,
];
const D7 = [
  0.10, 0.09, 0.09, 0.10, 0.10, 0.09, 0.11, 0.11, 0.12, 0.13,
  0.14, 0.15, 0.16, 0.15, 0.21, 0.13, 0.17, 0.20, 0.22, 0.30,
  0.21, 0.19, 0.18, 0.19, 0.18, 0.17, 0.15, 0.14, 0.13, 0.14,
  0.15, 0.14, 0.14, 0.15, 0.14, 0.15, 0.14, 0.15, 0.15, 0.16,
  0.14, 0.13, 0.13, 0.12, 0.12, 0.13, 0.12, 0.12, 0.11, 0.12,
  0.11, 0.12, 0.11, 0.11, 0.12, 0.11, 0.12, 0.11, 0.11, 0.12,
  0.11, 0.12, 0.11, 0.12, 0.12, 0.11, 0.12, 0.12, 0.11, 0.12,
  0.12, 0.11, 0.12, 0.12, 0.11, 0.12, 0.13, 0.14, 0.12, 0.13,
  0.12, 0.12, 0.13, 0.14, 0.15, 0.14, 0.13, 0.12, 0.12, 0.11,
  0.11, 0.12, 0.12, 0.11, 0.12, 0.12, 0.13, 0.12, 0.13, 0.13,
  0.05,
];
const D8 = [
  0.10, 0.09, 0.08, 0.08, 0.09, 0.09, 0.10, 0.10, 0.10, 0.11,
  0.10, 0.11, 0.12, 0.11, 0.10, 0.09, 0.10, 0.09, 0.08, 0.09,
  0.09, 0.08, 0.09, 0.09, 0.10, 0.09, 0.09, 0.10, 0.09, 0.10,
  0.10, 0.09, 0.10, 0.10, 0.11, 0.10, 0.11, 0.10, 0.11, 0.11,
  0.10, 0.11, 0.10, 0.10, 0.09, 0.12, 0.10, 0.11, 0.12, 0.12,
  0.12, 0.13, 0.12, 0.13, 0.13, 0.14, 0.13, 0.13, 0.14, 0.13,
  0.13, 0.12, 0.13, 0.12, 0.13, 0.12, 0.12, 0.13, 0.12, 0.14,
  0.19, 0.12, 0.13, 0.12, 0.18, 0.11, 0.10, 0.10, 0.10, 0.12,
  0.12, 0.14, 0.15, 0.16, 0.23, 0.20, 0.22, 0.33, 0.42, 0.34,
  0.31, 0.32, 0.29, 0.27, 0.28, 0.27, 0.25, 0.26, 0.23, 0.25,
  0.03,
];
const D9 = [
  0.05, 0.06, 0.05, 0.05, 0.04, 0.05, 0.05, 0.06, 0.05, 0.05,
  0.05, 0.05, 0.06, 0.06, 0.07, 0.07, 0.08, 0.09, 0.10, 0.10,
  0.11, 0.12, 0.14, 0.15, 0.17, 0.20, 0.23, 0.27, 0.25, 0.24,
  0.25, 0.27, 0.25, 0.26, 0.24, 0.25, 0.24, 0.23, 0.26, 0.25,
  0.24, 0.26, 0.25, 0.27, 0.30, 0.38, 0.32, 0.35, 0.32, 0.33,
  0.35, 0.32, 0.31, 0.28, 0.32, 0.30, 0.29, 0.28, 0.30, 0.29,
  0.27, 0.30, 0.30, 0.32, 0.31, 0.30, 0.29, 0.28, 0.28, 0.26,
  0.25, 0.24, 0.24, 0.23, 0.23, 0.22, 0.24, 0.21, 0.25, 0.26,
  0.26, 0.21, 0.18, 0.20, 0.21, 0.15, 0.16, 0.16, 0.17, 0.18,
  0.20, 0.21, 0.22, 0.20, 0.18, 0.17, 0.17, 0.18, 0.17, 0.17,
  0.07,
];
const D_STRIPS = [[9, 590, 1645], [8, 1771, 1904], [8, 1980, 1994]];

const PANEL_SERIES = [
  [A1, A2, A3, A4, A5, A6, A7, A8, A9],
  [B1, B2, B3, B4, B5, B6, B7, B8, B9],
  [C1, C2, C3, C4, C5, C6, C7, C8, C9],
  [D1, D2, D3, D4, D5, D6, D7, D8, D9],
];
const PANEL_STRIPS = [A_STRIPS, B_STRIPS, C_STRIPS, D_STRIPS];

// ---- layout ----
const GRID_BOXES = [
  { left: 33, top: 27, width: 392, height: 298 },
  { left: 603, top: 27, width: 392, height: 298 },
  { left: 33, top: 467, width: 392, height: 297 },
  { left: 603, top: 467, width: 392, height: 297 },
];
const LEGEND_POS = [
  { left: 432, top: 31 },
  { left: 1002, top: 31 },
  { left: 432, top: 470 },
  { left: 1002, top: 470 },
];
const SANS = "Liberation Sans, Arial, Helvetica, sans-serif";
const SERIF = "Liberation Serif, Times New Roman, serif";

function buildOption() {
  const grid = GRID_BOXES.map((g) => ({
    ...g,
    show: true,
    backgroundColor: "#ffffff",
    borderColor: "#d2d2d2",
    borderWidth: 1,
  }));

  const xAxis = GRID_BOXES.map((_, p) => ({
    type: "value",
    gridIndex: p,
    min: 0,
    max: PANEL_X_MAX[p],
    interval: PANEL_X_STEP[p],
    axisLine: { show: false },
    axisTick: { show: false },
    splitLine: { show: true, lineStyle: { color: "#dcdcdc", width: 1 } },
    axisLabel: {
      showMaxLabel: false,
      margin: 5,
      fontSize: 9,
      fontFamily: SANS,
      color: "#333333",
      formatter: (v: number) => String(v),
    },
  }));

  const yAxis = GRID_BOXES.map((_, p) => ({
    type: "value",
    gridIndex: p,
    min: 0,
    max: 1.1,
    interval: 0.2,
    axisLine: { show: false },
    axisTick: { show: false },
    splitLine: { show: true, lineStyle: { color: "#dcdcdc", width: 1 } },
    axisLabel: {
      showMaxLabel: false,
      margin: 7,
      fontSize: 9,
      fontFamily: SANS,
      color: "#333333",
      formatter: (v: number) => v.toFixed(1),
    },
  }));

  const series: any[] = [];
  PANEL_SERIES.forEach((list, p) => {
    const span = PANEL_SPANS[p];
    list.forEach((vals, c) => {
      const color = CLASS_COLORS[c];
      series.push({
        type: "line",
        name: CLASS_NAMES[c],
        xAxisIndex: p,
        yAxisIndex: p,
        showSymbol: false,
        symbol: "none",
        silent: true,
        color,
        lineStyle: { width: 1.7, color },
        itemStyle: { color },
        data: vals.map((v, i) => [(i * span) / (vals.length - 1), v]),
      });
    });
  });
  PANEL_STRIPS.forEach((strips, p) => {
    strips.forEach(([cls, from, to]) => {
      const color = CLASS_COLORS[cls - 1];
      series.push({
        type: "line",
        name: CLASS_NAMES[cls - 1],
        xAxisIndex: p,
        yAxisIndex: p,
        showSymbol: false,
        symbol: "none",
        silent: true,
        color,
        lineStyle: { width: 7, color, cap: "round" },
        itemStyle: { color },
        data: [
          [from, STRIP_LEVEL],
          [to, STRIP_LEVEL],
        ],
      });
    });
  });

  const legend = LEGEND_POS.map((pos) => ({
    ...pos,
    padding: 0,
    orient: "vertical",
    data: CLASS_NAMES.map((name) => ({ name, icon: "rect" })),
    itemWidth: 20,
    itemHeight: 5,
    itemGap: 4.6,
    itemTextGap: 7,
    selectedMode: false,
    textStyle: { fontSize: 9, lineHeight: 10, fontFamily: SANS, color: "#333333" },
  }));

  const graphic: any[] = [];
  GRID_BOXES.forEach((g, p) => {
    const cx = g.left + g.width / 2 + 1;
    graphic.push({
      type: "text",
      x: cx,
      y: g.top - 10,
      silent: true,
      style: {
        text: PANEL_TITLES[p],
        fill: "#333333",
        font: `11.5px ${SANS}`,
        align: "center",
        verticalAlign: "middle",
        textAlign: "center",
        textVerticalAlign: "middle",
      },
    });
    graphic.push({
      type: "text",
      x: cx,
      y: g.top + 373,
      silent: true,
      style: {
        text: PANEL_CAPTIONS[p],
        fill: "#000000",
        font: `20px ${SERIF}`,
        align: "center",
        verticalAlign: "middle",
        textAlign: "center",
        textVerticalAlign: "middle",
      },
    });
  });

  return {
    animation: false,
    backgroundColor: "#ffffff",
    grid,
    xAxis,
    yAxis,
    legend,
    series,
    graphic,
  };
}

export default function App() {
  const ref = useRef<HTMLDivElement>(null);
  useEffect(() => {
    if (!ref.current) return;
    const chart = echarts.init(ref.current, null, { renderer: "svg" });
    chart.setOption(buildOption() as any);
    return () => chart.dispose();
  }, []);
  return (
    <div
      ref={ref}
      style={{ position: "absolute", left: 0, top: 0, width: 1062, height: 853, background: "#ffffff" }}
    />
  );
}
